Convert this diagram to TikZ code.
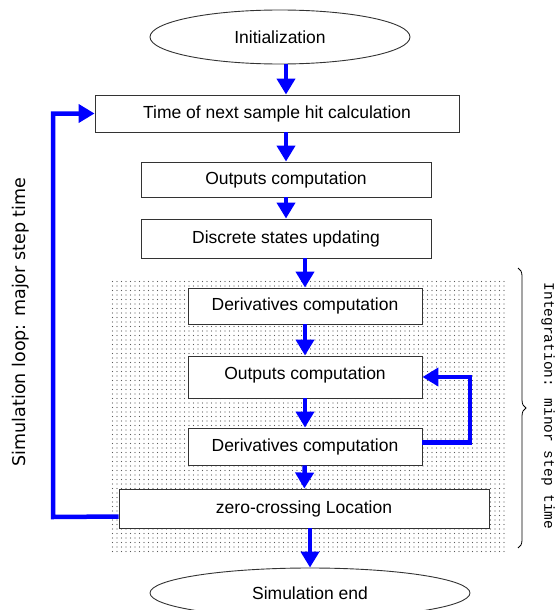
\documentclass[tikz,border=0pt]{standalone}
\usepackage{fontspec}
\setmainfont{Liberation Sans}
\newfontfamily\loopfont{DejaVu Sans}
\newfontfamily\stepfont{Liberation Mono}
\usepackage{tikz}
\usetikzlibrary{arrows.meta}
\usetikzlibrary{shapes.geometric}
\usetikzlibrary{patterns.meta}
\usetikzlibrary{decorations.pathreplacing}
\tikzset{basic/.style={draw=black!80,fill=white,line width=0.9pt,
                       inner sep=0pt,font=\fontsize{17.5}{20}\selectfont}}
\tikzset{task/.style={basic,rectangle}}
\tikzset{terminal/.style={basic,ellipse}}
\begin{document}
\begin{tikzpicture}[x=1pt,y=-1pt,>={Triangle[length=16pt,width=18pt]}]
  \tikzstyle{flow}=[->,blue,line width=4.5pt]
  \useasboundingbox (0,0) rectangle (558,610);
  % Dotted area of the integration (minor step) part
  \path[pattern={Dots[distance=4.5pt,radius=0.7pt]},pattern color=black!65]
    (110,278) rectangle (507,553);
  % Start and end of the simulation
  \node (init) [terminal,minimum width=260pt,minimum height=54pt] at (280,37) {Initialization};
  \node (sim_end) [terminal,minimum width=320pt,minimum height=50pt] at (310,593) {Simulation end};
  % Major step part
  \node (hit) [task,minimum width=364pt,minimum height=37pt] at (277,113.5) {Time of next sample hit calculation};
  \node (out_1) [task,minimum width=290pt,minimum height=35pt] at (286,179.5) {Outputs computation};
  \node (disc) [task,minimum width=290pt,minimum height=39pt] at (286,238.5) {Discrete states updating};
  % Minor step part
  \node (deriv_1) [task,minimum width=234pt,minimum height=36pt] at (305,306) {Derivatives computation};
  \node (out_2) [task,minimum width=234pt,minimum height=42pt] at (305,377) {\raisebox{7pt}{Outputs computation}};
  \node (deriv_2) [task,minimum width=234pt,minimum height=37pt] at (305,446.5) {Derivatives computation};
  \node (zero) [task,minimum width=370pt,minimum height=39pt] at (304,508.5) {zero-crossing Location};
  % Side labels
  \node (major) [rotate=90,font=\loopfont\fontsize{17.5}{20}\selectfont] at (21,322) {Simulation loop: major step time};
  \node (minor) [rotate=-90,font=\stepfont\fontsize{14.5}{18}\selectfont] at (548,406) {Integration: minor step time};
  \coordinate (loop) at (53,517);
  \coordinate (back) at (470,410);
  % The blocks are now connected through arrows:
  \path[flow]
    (init.south -| out_1) edge (hit.north -| out_1)
    (hit.south -| out_1) edge (out_1)
    (out_1) edge (disc)
    (disc.south -| deriv_1) edge (deriv_1)
    (deriv_1) edge (out_2)
    (out_2) edge (deriv_2)
    (deriv_2) edge (zero)
    (zero.south -| sim_end) edge (sim_end)
    ;
  \draw[flow] ([yshift=4pt]deriv_2.east) -| (back) |- (out_2.east);
  \draw[flow] ([yshift=-8pt]zero.west) -- (loop) |- (hit.west);
  % Brace of the minor step part
  \draw[decorate,decoration={brace,amplitude=8pt},line width=0.8pt] (518,268) -- (518,548);
\end{tikzpicture}
\end{document}
